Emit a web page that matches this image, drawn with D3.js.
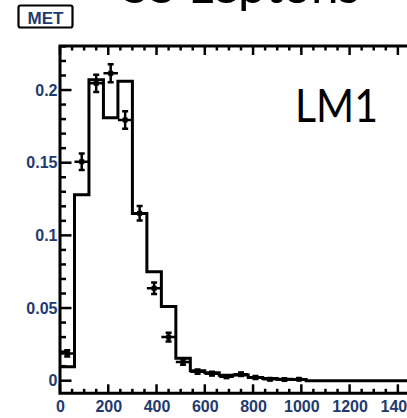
<!DOCTYPE html>
<html>
<head>
<meta charset="utf-8">
<script src="https://cdn.jsdelivr.net/npm/d3@7/dist/d3.min.js"></script>
<style>
  html, body { margin: 0; padding: 0; background: #fff; }
  svg { display: block; }
</style>
</head>
<body>
<svg id="chart" width="407" height="418"></svg>
<script>
// MET distribution, same-sign dilepton selection, LM1 benchmark point
const binLow = [0, 60, 120, 180, 240, 300, 360, 420, 480, 540, 600, 660, 720,
                780, 840, 900, 960, 1020, 1080, 1140, 1200, 1260, 1320, 1380, 1440];
const binWidth = 60;
// simulated shape (solid histogram)
const simValues = [0.0096, 0.128, 0.207, 0.181, 0.206, 0.115, 0.075, 0.051, 0.0154,
                   0.0068, 0.0055, 0.0038, 0.0040, 0.0022, 0.0015, 0.0010, 0.0008,
                   0, 0, 0, 0, 0, 0, 0, 0];
// points with statistical errors
const pointX   = [30, 90, 150, 210, 270, 330, 390, 450, 510, 570, 630, 690, 750, 810, 870, 930, 990];
const pointY   = [0.0188, 0.1507, 0.2046, 0.2115, 0.1794, 0.1152, 0.0636, 0.0300, 0.0129,
                  0.0062, 0.0048, 0.0028, 0.0045, 0.0022, 0.0010, 0.0008, 0.0010];
const pointErr = [0.0022, 0.0057, 0.0060, 0.0062, 0.0060, 0.0050, 0.0040, 0.0030, 0.0020,
                  0.0015, 0.0013, 0.0010, 0.0012, 0.0010, 0.0007, 0.0006, 0.0006];
const xTicks = [0, 200, 400, 600, 800, 1000, 1200, 1400];
const yTicks = [0, 0.05, 0.1, 0.15, 0.2];
const yTickLabels = ["0", "0.05", "0.1", "0.15", "0.2"];

const svg = d3.select("#chart");
const frame = { left: 60, top: 46, bottom: 393.3, right: 422 };

const x = d3.scaleLinear().domain([0, 1500]).range([frame.left, frame.right]);
const y = d3.scaleLinear().domain([-0.00867, 0.2303]).range([frame.bottom, frame.top]);

const labelColor = "#1f3b6e";
const tickFont = "'Liberation Sans', Arial, sans-serif";

// title (runs off the top edge)
svg.append("text")
  .attr("x", 122).attr("y", 2.5)
  .attr("font-family", "Lato, 'Open Sans', sans-serif")
  .attr("font-size", 47)
  .attr("textLength", 238).attr("lengthAdjust", "spacingAndGlyphs")
  .attr("fill", "#000")
  .text("SS Leptons");

// variable tag
svg.append("rect")
  .attr("x", 18.5).attr("y", 5.5).attr("width", 54).attr("height", 22)
  .attr("rx", 2).attr("fill", "#fff").attr("stroke", "#000").attr("stroke-width", 2.2);
svg.append("text")
  .attr("x", 45.5).attr("y", 23.5).attr("text-anchor", "middle")
  .attr("font-family", tickFont)
  .attr("font-weight", "bold").attr("font-size", 17)
  .attr("fill", labelColor)
  .text("MET");

const clipId = "plot-clip";
svg.append("clipPath").attr("id", clipId)
  .append("rect").attr("x", frame.left).attr("y", frame.top)
  .attr("width", frame.right - frame.left).attr("height", frame.bottom - frame.top);

const plot = svg.append("g").attr("clip-path", `url(#${clipId})`);

// histogram as a step outline
const stepPts = [];
binLow.forEach((lo, i) => {
  stepPts.push([lo, simValues[i]]);
  stepPts.push([lo + binWidth, simValues[i]]);
});
plot.append("path")
  .attr("d", d3.line().x(d => x(d[0])).y(d => y(d[1]))(stepPts))
  .attr("fill", "none").attr("stroke", "#000").attr("stroke-width", 3)
  .attr("stroke-linejoin", "miter");

// points with error bars
const pts = plot.append("g").attr("stroke", "#000").attr("stroke-width", 2.5);
pointX.forEach((cx, i) => {
  const px = x(cx), py = y(pointY[i]);
  const hi = y(pointY[i] + pointErr[i]), lo = y(pointY[i] - pointErr[i]);
  pts.append("line").attr("x1", x(cx - binWidth / 2)).attr("x2", x(cx + binWidth / 2))
    .attr("y1", py).attr("y2", py);
  pts.append("line").attr("x1", px).attr("x2", px).attr("y1", hi).attr("y2", lo);
  pts.append("line").attr("x1", px - 3).attr("x2", px + 3).attr("y1", hi).attr("y2", hi);
  pts.append("line").attr("x1", px - 3).attr("x2", px + 3).attr("y1", lo).attr("y2", lo);
  plot.append("rect").attr("x", px - 2.5).attr("y", py - 2.5)
    .attr("width", 5).attr("height", 5).attr("fill", "#000");
});

// frame
const axes = svg.append("g").attr("stroke", "#000").attr("fill", "none");
axes.append("path")
  .attr("d", `M${frame.right + 5},${frame.top}H${frame.left}V${frame.bottom}H${frame.right + 5}`)
  .attr("stroke-width", 3).attr("stroke-linecap", "square");

// x ticks, bottom and top, drawn inward
const xMinor = d3.range(0, 1501, 50);
xMinor.forEach(v => {
  const major = v % 200 === 0;
  const len = major ? 9 : 4.5;
  axes.append("line").attr("x1", x(v)).attr("x2", x(v))
    .attr("y1", frame.bottom).attr("y2", frame.bottom - len).attr("stroke-width", 2.5);
  axes.append("line").attr("x1", x(v)).attr("x2", x(v))
    .attr("y1", frame.top).attr("y2", frame.top + len).attr("stroke-width", 2.5);
});

// y ticks, drawn inward
const yMinor = d3.range(1, 24).map(k => k / 100);
yMinor.concat([0]).forEach(v => {
  const major = Math.abs(v * 20 - Math.round(v * 20)) < 1e-9;
  const len = major ? 11.5 : 6;
  axes.append("line").attr("x1", frame.left).attr("x2", frame.left + len)
    .attr("y1", y(v)).attr("y2", y(v)).attr("stroke-width", 2.5);
});

// tick labels
const xAxis = d3.axisBottom(x).tickValues(xTicks).tickSize(0).tickPadding(0)
  .tickFormat(d3.format("d"));
const gx = svg.append("g").attr("transform", `translate(0,${frame.bottom})`).call(xAxis);
gx.select(".domain").remove();
gx.selectAll("text")
  .attr("y", 19).attr("dy", null)
  .attr("font-family", tickFont)
  .attr("font-weight", "bold").attr("font-size", 16)
  .attr("fill", labelColor);

const yAxis = d3.axisLeft(y).tickValues(yTicks).tickSize(0).tickPadding(0)
  .tickFormat((d, i) => yTickLabels[i]);
const gy = svg.append("g").attr("transform", `translate(${frame.left - 2.5},0)`).call(yAxis);
gy.select(".domain").remove();
gy.selectAll("text")
  .attr("font-family", tickFont)
  .attr("font-weight", "bold").attr("font-size", 16)
  .attr("fill", labelColor);

// benchmark label
svg.append("text")
  .attr("x", 295).attr("y", 122)
  .attr("font-family", "Lato, 'Open Sans', sans-serif")
  .attr("font-size", 47)
  .attr("textLength", 83).attr("lengthAdjust", "spacingAndGlyphs")
  .attr("fill", "#000")
  .text("LM1");
</script>
</body>
</html>
